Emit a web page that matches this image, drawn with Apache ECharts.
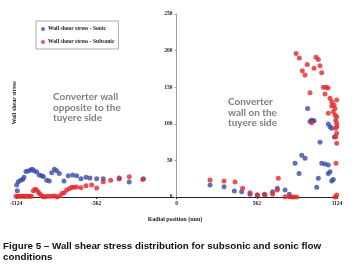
<!DOCTYPE html>
<html>
<head>
<meta charset="utf-8">
<script src="https://cdn.jsdelivr.net/npm/echarts@6/dist/echarts.min.js"></script>
<style>
  html, body { margin: 0; padding: 0; background: #fff; }
  #chart { width: 356px; height: 265px; }
</style>
</head>
<body>
<div id="chart"></div>
<script>
// radial position (mm) and wall shear stress, sonic flow
const sonicRadial = [-1115, -1119, -1108, -1091, -1077, -1068, -1054, -1038, -1021, -1010, -996, -979, -961, -944, -933, -909, -891, -874, -855, -839, -821, -788, -758, -727, -699, -669, -634, -606, -559, -513, -401, -331, -232,
  235, 333, 405, 456, 515, 566, 615, 673, 706, 760, 790, 830, 858, 877, 900, 918, 935, 945, 954, 963, 982, 993, 1005, 1017, 1040, 1063, 1063, 1063, 1075, 1075, 1087, 1087, 1098, 1105]
const sonicStress = [8.6, 16.4, 21, 23, 24, 27, 35, 35.5, 37, 38, 36, 34, 30, 29, 28, 23, 22, 33, 38, 36, 32, 22, 29, 30, 29, 25, 27, 26, 25, 25, 26, 20.5, 25,
  16.4, 14.1, 8.2, 7.3, 3.6, 2.7, 3.6, 7.3, 11.8, 9.6, 3.6, 46, 32, 57, 53, 121, 103, 105, 104, 104, 13.2, 25.5, 74.7, 46, 45, 43.7, 99.7, 32, 96, 34.6, 94, 22, 24, 82]

// subsonic flow
const subsonicRadial = [-1124, -1112, -1100, -1088, -1076, -1064, -1052, -1040, -1028, -1016,
  -1003, -991, -979, -968, -956, -944, -933, -921, -905, -886, -867, -851, -835, -816, -800, -786, -769, -751, -734, -718, -699, -669, -634, -594, -559, -513, -461, -401, -331, -236,
  235, 333, 410, 463, 515, 566, 620, 673, 706, 713, 760, 790, 807, 823, 842,
  837, 860, 881, 900, 916, 935, 947, 963, 977, 993, 1005, 1017, 1028, 1040, 1047, 1061, 1063, 1075, 1087, 1087, 1098, 1103, 1110, 1110, 1115, 1115, 1115, 1117, 1122, 1122, 1122, 1122, 1122, 1122, 1122, 1110]
const subsonicStress = [1, 1, 1, 1, 1, 1, 1, 1, 1, 1,
  8.6, 10.5, 9.6, 6.4, 4.1, 1.8, 0.5, 0.5, 0.9, 0.9, 1.4, 1.4, 0, 1.8, 5, 5.9, 9.6, 11.4, 13.2, 13.2, 13.7, 12.7, 15.5, 16.4, 12.3, 21, 23, 24.6, 27.8, 24,
  23.2, 21.9, 20.5, 11.8, 5.9, 2.7, 2.7, 3.6, 9.6, 25.5, 0.5, 0.5, 0, 0, 0,
  196, 190, 172.6, 166.7, 181, 142.5, 101.5, 175.8, 190.8, 188, 179.4, 169.8, 149.8, 140.7, 149.8, 149, 114.3, 134.8, 130.2, 124.3, 116.5, 125.7, 121, 112, 105, 93.8, 82.4, 46, 132.5, 109.7, 100.7, 96.2, 87, 73.3, 2.7, 0]

const xTicks = [-1124, -562, 0, 562, 1124]

const zip = (xs, ys) => xs.map((x, i) => [x, ys[i]])

const chart = echarts.init(document.getElementById('chart'))

const tickFont = { fontFamily: 'Liberation Serif', fontWeight: 'bold', fontSize: 5.5, color: '#222' }
const noteStyle = { fontFamily: 'Lato', fontWeight: 'bold', fontSize: 10, lineHeight: 10.5, fill: '#7f7f7f' }

// the vertical axis sits at radial position 0, in the middle of the plot
const gridLeft = 16
const gridRight = 19
const plotWidth = 356 - gridLeft - gridRight

chart.setOption({
  animation: false,
  grid: { left: gridLeft, right: gridRight, top: 14, bottom: 68 },
  xAxis: {
    type: 'value',
    min: -1124,
    max: 1124,
    interval: 562,
    splitLine: { show: false },
    axisLine: { lineStyle: { color: '#222', width: 1 } },
    axisTick: { show: true, length: 2, lineStyle: { color: '#222' } },
    axisLabel: { ...tickFont, margin: 4, showMinLabel: true, showMaxLabel: true,
      formatter: v => xTicks.includes(v) ? String(v) : '' }
  },
  yAxis: {
    type: 'value',
    min: 0,
    max: 250,
    interval: 50,
    offset: -plotWidth / 2,
    splitLine: { show: false },
    axisLine: { onZero: false, lineStyle: { color: '#a0a0a0', width: 1 } },
    axisTick: { show: true, length: 2, lineStyle: { color: '#a0a0a0' } },
    axisLabel: { ...tickFont, margin: 4 }
  },
  legend: {
    orient: 'vertical',
    left: 36,
    top: 21,
    itemWidth: 4,
    itemHeight: 4,
    itemGap: 7,
    padding: [5, 4, 4, 5],
    borderColor: '#888',
    borderWidth: 0.7,
    textStyle: { fontFamily: 'Liberation Serif', fontWeight: 'bold', fontSize: 5.6, color: '#222', padding: [0, 0, 0, -2] },
    data: [
      { name: 'Wall shear stress - Sonic', icon: 'circle' },
      { name: 'Wall shear stress - Subsonic', icon: 'circle' }
    ]
  },
  series: [
    {
      name: 'Wall shear stress - Sonic',
      type: 'scatter',
      symbolSize: 5,
      itemStyle: { color: '#3b4ba6' },
      data: zip(sonicRadial, sonicStress)
    },
    {
      name: 'Wall shear stress - Subsonic',
      type: 'scatter',
      symbolSize: 5,
      itemStyle: { color: '#e2292b' },
      data: zip(subsonicRadial, subsonicStress)
    }
  ],
  graphic: [
    {
      type: 'text', x: 14, y: 103, rotation: Math.PI / 2,
      style: { text: 'Wall shear stress', fontFamily: 'Liberation Serif', fontWeight: 'bold', fontSize: 6, fill: '#222', align: 'center', verticalAlign: 'middle' }
    },
    {
      type: 'text', x: 175, y: 219,
      style: { text: 'Radial position (mm)', fontFamily: 'Liberation Serif', fontWeight: 'bold', fontSize: 6, fill: '#222', align: 'center', verticalAlign: 'middle' }
    },
    {
      type: 'text', x: 53, y: 92,
      style: { ...noteStyle, text: 'Converter wall\nopposite to the\ntuyere side' }
    },
    {
      type: 'text', x: 228, y: 97,
      style: { ...noteStyle, text: 'Converter\nwall on the\ntuyere side' }
    },
    {
      type: 'text', x: 3, y: 241,
      style: { text: 'Figure 5 – Wall shear stress distribution for subsonic and sonic flow\nconditions',
        fontFamily: 'Liberation Sans', fontWeight: 'bold', fontSize: 9.8, lineHeight: 11, fill: '#111' }
    }
  ]
})
</script>
</body>
</html>
